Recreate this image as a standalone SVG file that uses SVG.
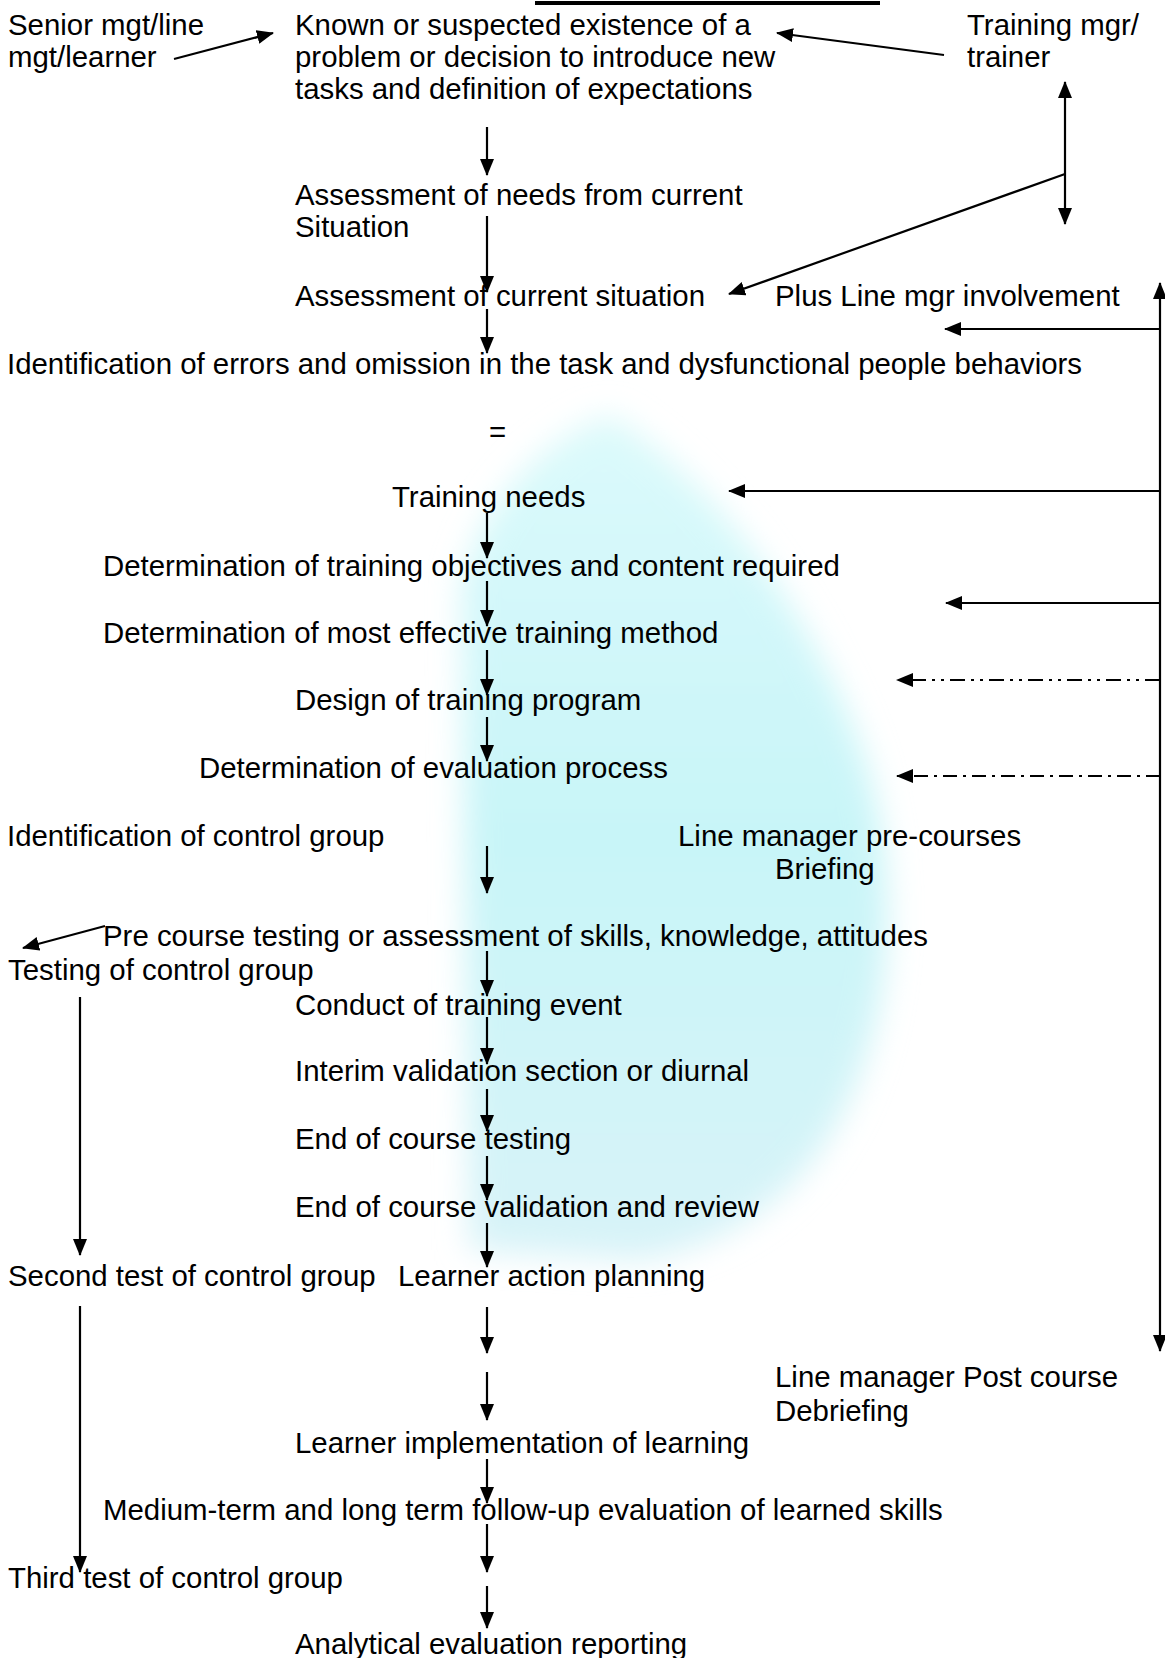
<svg xmlns="http://www.w3.org/2000/svg" width="1165" height="1658" viewBox="0 0 1165 1658">
<style>
  text { font-family: "Liberation Sans", Arial, sans-serif; font-size: 29.4px; fill: #000; }
  .ln { stroke: #000; stroke-width: 2.2; fill: none; }
  .dd1 { stroke: #000; stroke-width: 2.2; fill: none; stroke-dasharray: 15 6 3 6 3 6; }
  .dd2 { stroke: #000; stroke-width: 2.2; fill: none; stroke-dasharray: 14 6 3 6; }
</style>
<defs>
  <marker id="ah" markerUnits="userSpaceOnUse" markerWidth="17" markerHeight="14" refX="16" refY="7" orient="auto-start-reverse">
    <path d="M0,0 L17,7 L0,14 Z" fill="#000" stroke="none"/>
  </marker>
  <filter id="blur" x="-30%" y="-30%" width="160%" height="160%">
    <feGaussianBlur stdDeviation="16"/>
  </filter>
  <linearGradient id="cy" x1="0" y1="0" x2="0" y2="1">
    <stop offset="0" stop-color="#dcfafb"/>
    <stop offset="0.5" stop-color="#c8f5f8"/>
    <stop offset="1" stop-color="#d8f3f8"/>
  </linearGradient>
</defs>
<rect width="1165" height="1658" fill="#fff"/>
<g id="watermark">
  <path d="M610,415 C700,470 810,600 865,760 C905,900 890,1050 820,1150 C770,1220 700,1250 640,1260 L470,1250 L462,585 C480,505 540,440 610,415 Z" fill="url(#cy)" filter="url(#blur)"/>
</g>
<rect x="535" y="1" width="345" height="4" fill="#000"/>
<g id="connectors">
  <path class="ln" d="M174,59 L273,33" marker-end="url(#ah)"/>
  <path class="ln" d="M944,55 L777,33" marker-end="url(#ah)"/>
  <path class="ln" d="M1065,82 L1065,224" marker-start="url(#ah)" marker-end="url(#ah)"/>
  <path class="ln" d="M1065,174 L729,294" marker-end="url(#ah)"/>
  <path class="ln" d="M1160,283 L1160,1351" marker-start="url(#ah)" marker-end="url(#ah)"/>
  <path class="ln" d="M1160,329 L945,329" marker-end="url(#ah)"/>
  <path class="ln" d="M1160,491 L729,491" marker-end="url(#ah)"/>
  <path class="ln" d="M1160,603 L946,603" marker-end="url(#ah)"/>
  <path class="dd1" d="M1160,680 L897,680" marker-end="url(#ah)"/>
  <path class="dd2" d="M1160,776 L897,776" marker-end="url(#ah)"/>
  <path class="ln" d="M105,926 L23,948" marker-end="url(#ah)"/>
  <path class="ln" d="M487,127 L487,175" marker-end="url(#ah)"/>
  <path class="ln" d="M487,216 L487,292" marker-end="url(#ah)"/>
  <path class="ln" d="M487,309 L487,353" marker-end="url(#ah)"/>
  <path class="ln" d="M487,513 L487,558" marker-end="url(#ah)"/>
  <path class="ln" d="M487,581 L487,626" marker-end="url(#ah)"/>
  <path class="ln" d="M487,650 L487,695" marker-end="url(#ah)"/>
  <path class="ln" d="M487,717 L487,761" marker-end="url(#ah)"/>
  <path class="ln" d="M487,846 L487,893" marker-end="url(#ah)"/>
  <path class="ln" d="M487,951 L487,996" marker-end="url(#ah)"/>
  <path class="ln" d="M487,1017 L487,1064" marker-end="url(#ah)"/>
  <path class="ln" d="M487,1089 L487,1131" marker-end="url(#ah)"/>
  <path class="ln" d="M487,1156 L487,1200" marker-end="url(#ah)"/>
  <path class="ln" d="M487,1223 L487,1267" marker-end="url(#ah)"/>
  <path class="ln" d="M487,1307 L487,1353" marker-end="url(#ah)"/>
  <path class="ln" d="M487,1372 L487,1420" marker-end="url(#ah)"/>
  <path class="ln" d="M487,1459 L487,1503" marker-end="url(#ah)"/>
  <path class="ln" d="M487,1524 L487,1572" marker-end="url(#ah)"/>
  <path class="ln" d="M487,1586 L487,1628" marker-end="url(#ah)"/>
  <path class="ln" d="M80,997 L80,1255" marker-end="url(#ah)"/>
  <path class="ln" d="M80,1306 L80,1572" marker-end="url(#ah)"/>
</g>
<g id="nodes" transform="translate(0,2)">
<g id="n-senior"><text x="8" y="33">Senior mgt/line</text><text x="8" y="65">mgt/learner</text></g>
<g id="n-known"><text x="295" y="33">Known or suspected existence of a</text><text x="295" y="65">problem or decision to introduce new</text><text x="295" y="97">tasks and definition of expectations</text></g>
<g id="n-trainer"><text x="967" y="33">Training mgr/</text><text x="967" y="65">trainer</text></g>
<g id="n-needs"><text x="295" y="203">Assessment of needs from current</text><text x="295" y="235">Situation</text></g>
<g id="n-current"><text x="295" y="304">Assessment of current situation</text></g>
<g id="n-plus"><text x="775" y="304">Plus Line mgr involvement</text></g>
<g id="n-errors"><text x="7" y="372">Identification of errors and omission in the task and dysfunctional people behaviors</text></g>
<g id="n-eq"><text x="489" y="440">=</text></g>
<g id="n-tneeds"><text x="392" y="505">Training needs</text></g>
<g id="n-objectives"><text x="103" y="574">Determination of training objectives and content required</text></g>
<g id="n-method"><text x="103" y="641">Determination of most effective training method</text></g>
<g id="n-design"><text x="295" y="708">Design of training program</text></g>
<g id="n-evalproc"><text x="199" y="776">Determination of evaluation process</text></g>
<g id="n-control"><text x="7" y="844">Identification of control group</text></g>
<g id="n-prebrief"><text x="678" y="844">Line manager pre-courses</text><text x="775" y="877">Briefing</text></g>
<g id="n-pretest"><text x="103" y="944">Pre course testing or assessment of skills, knowledge, attitudes</text></g>
<g id="n-testctrl"><text x="8" y="978">Testing of control group</text></g>
<g id="n-conduct"><text x="295" y="1013">Conduct of training event</text></g>
<g id="n-interim"><text x="295" y="1079">Interim validation section or diurnal</text></g>
<g id="n-endtest"><text x="295" y="1147">End of course testing</text></g>
<g id="n-endval"><text x="295" y="1215">End of course validation and review</text></g>
<g id="n-second"><text x="8" y="1284">Second test of control group</text></g>
<g id="n-action"><text x="398" y="1284">Learner action planning</text></g>
<g id="n-postbrief"><text x="775" y="1385">Line manager Post course</text><text x="775" y="1419">Debriefing</text></g>
<g id="n-implement"><text x="295" y="1451">Learner implementation of learning</text></g>
<g id="n-medium"><text x="103" y="1518">Medium-term and long term follow-up evaluation of learned skills</text></g>
<g id="n-third"><text x="8" y="1586">Third test of control group</text></g>
<g id="n-report"><text x="295" y="1652">Analytical evaluation reporting</text></g>
</g>
</svg>
